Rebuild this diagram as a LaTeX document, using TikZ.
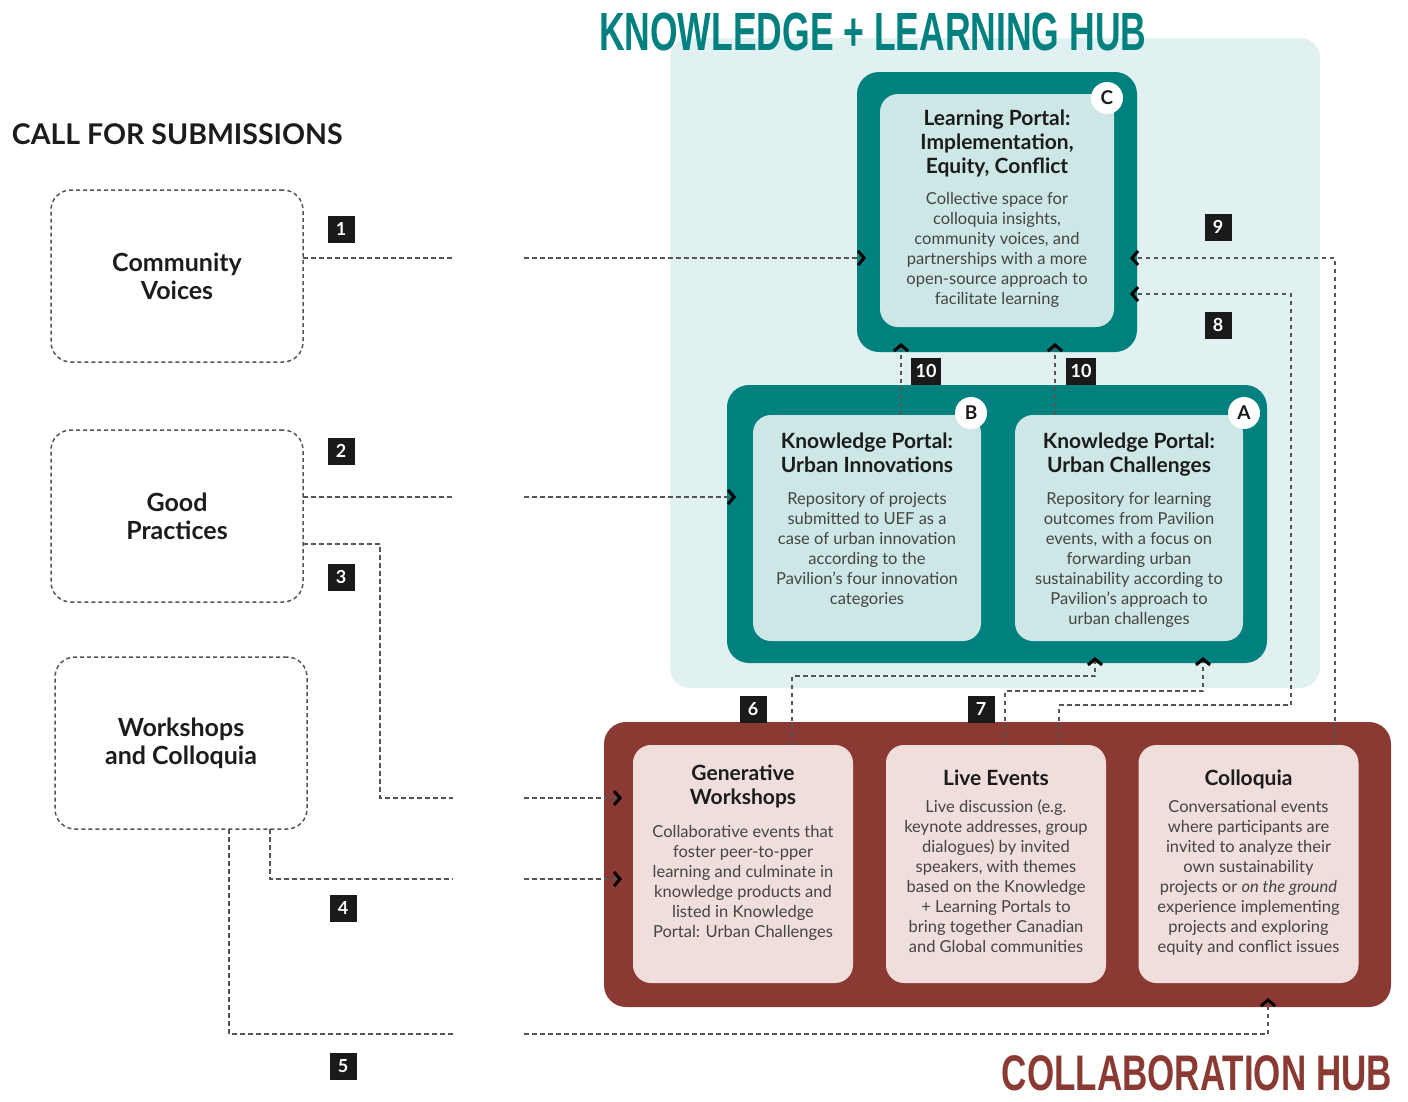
\documentclass[tikz,border=0pt]{standalone}
\usepackage{fontspec}
\setmainfont{Lato}
\newfontfamily\hubfont[FakeStretch=0.66]{Liberation Sans}
\newfontfamily\hubfontw[FakeStretch=0.70]{Liberation Sans}
\usetikzlibrary{positioning,arrows.meta}

\definecolor{hubteal}{HTML}{00807E}
\definecolor{tealpale}{HTML}{CDE6E6}
\definecolor{paneltint}{HTML}{E1F0F0}
\definecolor{hubred}{HTML}{8B3A33}
\definecolor{redpale}{HTML}{F0DEDC}
\definecolor{linkgray}{HTML}{555555}
\definecolor{inkdark}{HTML}{1C1C1C}
\definecolor{inkgray}{HTML}{444444}
\definecolor{tagblack}{HTML}{1A1A1A}

\newcommand{\hd}[1]{{\fontsize{21}{24}\selectfont\bfseries\color{inkdark}#1}}

\begin{document}
\begin{tikzpicture}[x=1pt, y=-1pt,
  every node/.style={inner sep=0pt, outer sep=0pt},
  tealbox/.style={fill=hubteal, rounded corners=22pt},
  tealin/.style={fill=tealpale, rounded corners=18pt, minimum width=228pt, minimum height=226pt},
  redbox/.style={fill=hubred, rounded corners=22pt},
  redin/.style={fill=redpale, rounded corners=18pt, minimum width=220pt, minimum height=238pt},
  boxtext/.style={align=center, text=inkgray, font=\fontsize{16.5}{20}\selectfont},
  callbox/.style={draw=linkgray, line width=1.5pt, dash pattern=on 4pt off 3pt,
    rounded corners=20pt, minimum width=252pt, minimum height=172pt,
    align=center, text=inkdark, font=\fontsize{25}{28}\selectfont\bfseries},
  numtag/.style={fill=tagblack, text=white, minimum width=27pt, minimum height=27pt,
    font=\fontsize{18}{18}\selectfont\bfseries},
  lettag/.style={circle, fill=white, text=inkdark, minimum size=32pt,
    font=\fontsize{19}{19}\selectfont\bfseries},
  link/.style={draw=linkgray, line width=1.5pt, dash pattern=on 4.5pt off 3.5pt},
  tip/.style={-{Straight Barb[length=6pt, width=14pt, line width=3pt, color=black]}, shorten >=-#1},
  tip/.default=9pt]
  \useasboundingbox (0,0) rectangle (1408,1101);

  % knowledge + learning hub
  \node[fill=paneltint, rounded corners=20pt, minimum width=650pt, minimum height=650pt] (kpanel) at (995,363) {};
  \node[tealbox, minimum width=280pt, minimum height=280pt] (cout) at (997,212) {};
  \node[tealin, minimum width=234pt, minimum height=233pt] (cin) at (997,210.5) {};
  \node[tealbox, minimum width=540pt, minimum height=278pt] (mid) at (997,524) {};
  \node[tealin] (bin) at (867,528) {};
  \node[tealin] (ain) at (1129,528) {};

  % titles
  \node[anchor=base west, text=hubteal, font=\hubfont\bfseries\fontsize{53.8}{54}\selectfont] (khub) at (599,50) {KNOWLEDGE + LEARNING HUB};
  \node[anchor=base east, text=hubred, font=\hubfontw\bfseries\fontsize{50}{50}\selectfont] (chub) at (1392,1090) {COLLABORATION HUB};
  \node[anchor=west, text=inkdark, font=\fontsize{28.5}{28.5}\selectfont\bfseries] (callsub) at (12,134) {CALL FOR SUBMISSIONS};

  \node[boxtext, below=16pt of cin.north] (ctext) {\hd{Learning Portal:}\\[4pt]\hd{Implementation,}\\[4pt]\hd{Equity, Conflict}\\[11pt]
    Collective space for\\colloquia insights,\\community voices, and\\partnerships with a more\\open-source approach to\\facilitate learning};
  \node[boxtext, below=18pt of bin.north] (btext) {\hd{Knowledge Portal:}\\[4pt]\hd{Urban Innovations}\\[12pt]
    Repository of projects\\submitted to UEF as a\\case of urban innovation\\according to the\\Pavilion's four innovation\\categories};
  \node[boxtext, below=18pt of ain.north] (atext) {\hd{Knowledge Portal:}\\[4pt]\hd{Urban Challenges}\\[12pt]
    Repository for learning\\outcomes from Pavilion\\events, with a focus on\\forwarding urban\\sustainability according to\\Pavilion's approach to\\urban challenges};

  \node[lettag] (ctag) at ([xshift=-7pt,yshift=-4pt]cin.north east) {C};
  \node[lettag] (btag) at ([xshift=-10pt,yshift=2pt]bin.north east) {B};
  \node[lettag] (atag) at ([xshift=1pt,yshift=2pt]ain.north east) {A};

  % collaboration hub
  \node[redbox, minimum width=787pt, minimum height=285pt] (red) at (997.5,864.5) {};
  \node[redin] (gw) at (743,864) {};
  \node[redin] (le) at (996,864) {};
  \node[redin] (col) at (1248.5,864) {};

  \node[boxtext, below=20pt of gw.north] (gwtext) {\hd{Generative}\\[4pt]\hd{Workshops}\\[13pt]
    Collaborative events that\\foster peer-to-pper\\learning and culminate in\\knowledge products and\\listed in Knowledge\\Portal: Urban Challenges};
  \node[boxtext, below=25pt of le.north] (letext) {\hd{Live Events}\\[7pt]
    Live discussion (e.g.\\keynote addresses, group\\dialogues) by invited\\speakers, with themes\\based on the Knowledge\\+ Learning Portals to\\bring together Canadian\\and Global communities};
  \node[boxtext, below=25pt of col.north] (coltext) {\hd{Colloquia}\\[7pt]
    Conversational events\\where participants are\\invited to analyze their\\own sustainability\\projects or \textit{on the ground}\\experience implementing\\projects and exploring\\equity and conflict issues};

  % call for submissions
  \node[callbox] (cv) at (177,276) {Community\\Voices};
  \node[callbox] (gp) at (177,516) {Good\\Practices};
  \node[callbox] (wc) at (181,743) {Workshops\\and Colloquia};

  % connectors
  \coordinate (gapl) at (453,0);
  \coordinate (gapr) at (524,0);
  \coordinate (cv1) at ([yshift=18pt]cv.east);
  \coordinate (gp2) at ([yshift=19pt]gp.east);
  \coordinate (gp3) at ([yshift=-28pt]gp.east);
  \coordinate (r3) at ([yshift=66.5pt]red.west);
  \coordinate (r4) at ([yshift=-14.5pt]red.west);
  \coordinate (k3) at (380,798);
  \coordinate (k5) at (453,1034);
  \coordinate (k6) at (1095,676);
  \coordinate (k7) at (1203,691);
  \coordinate (k8) at (1291,705);

  \draw[link, tip] (cv1) -- (gapl |- cv1) (gapr |- cv1) -- (cv1 -| cout.west);
  \draw[link, tip] (gp2) -- (gapl |- gp2) (gapr |- gp2) -- (gp2 -| mid.west);
  \draw[link, tip=18pt] (gp3) -| (k3) -- (gapl |- k3) (gapr |- r3) -- (r3);
  \draw[link, tip=18pt] ([xshift=89pt]wc.south) |- (gapl |- r4) (gapr |- r4) -- (r4);
  \draw[link, tip] ([xshift=48pt]wc.south) |- (k5) (gapr |- k5) -| ([xshift=270.5pt]red.south);
  \draw[link, tip=6pt] ([xshift=49pt]gw.north) |- (k6) -- ([xshift=98pt]mid.south);
  \draw[link, tip=6pt] ([xshift=9pt]le.north) |- (k7) -- ([xshift=206pt]mid.south);
  \draw[link, tip=7pt] ([xshift=63pt]le.north) |- (k8) |- ([yshift=-82pt]cout.east);
  \draw[link, tip=7pt] ([xshift=86.5pt]col.north) |- ([yshift=-46pt]cout.east);
  \draw[link, tip] ([xshift=34pt]bin.north) -- ([xshift=34pt]bin.north |- cout.south);
  \draw[link, tip] ([xshift=-74pt]ain.north) -- ([xshift=-74pt]ain.north |- cout.south);

  % step numbers
  \node[numtag] (n1) at (341,229) {1};
  \node[numtag] (n2) at (341,451) {2};
  \node[numtag] (n3) at (341,577) {3};
  \node[numtag] (n4) at (343,908) {4};
  \node[numtag] (n5) at (343,1066) {5};
  \node[numtag] (n6) at (753,709) {6};
  \node[numtag] (n7) at (981,709) {7};
  \node[numtag] (n8) at (1218,325) {8};
  \node[numtag] (n9) at (1218,227) {9};
  \node[numtag, minimum width=30pt] (n10b) at (926,371) {10};
  \node[numtag, minimum width=30pt] (n10a) at (1081,371) {10};
\end{tikzpicture}
\end{document}
